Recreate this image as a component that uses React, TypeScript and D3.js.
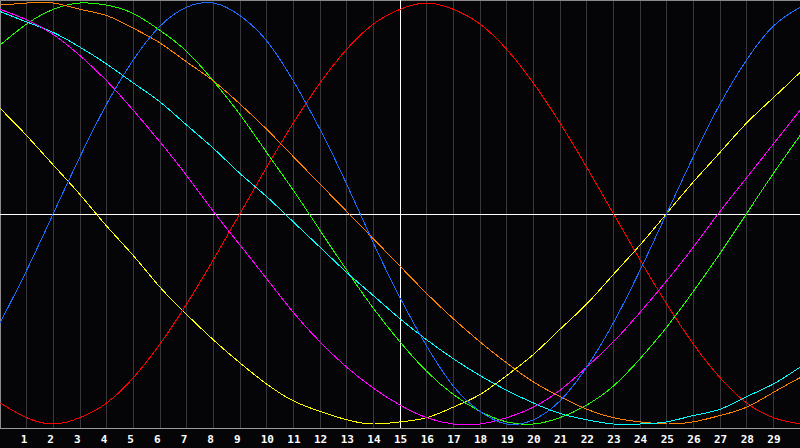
import * as d3 from "d3";

// sample positions along x (the chart runs 0..30)
const samplePoints = [
  0, 1, 2, 3, 4, 5, 6, 7, 8, 9, 10, 11, 12, 13, 14, 15,
  16, 17, 18, 19, 20, 21, 22, 23, 24, 25, 26, 27, 28, 29, 30,
];

const tickLabels = [
  1, 2, 3, 4, 5, 6, 7, 8, 9, 10, 11, 12, 13, 14, 15,
  16, 17, 18, 19, 20, 21, 22, 23, 24, 25, 26, 27, 28, 29,
];

// values read at each sample point, range -1..1
const redValues = [-0.90, -0.97, -1.00, -0.97, -0.90, -0.78, -0.62, -0.43, -0.22, 0.00, 0.22, 0.43, 0.62, 0.78, 0.90, 0.97, 1.00, 0.97, 0.90, 0.78, 0.62, 0.43, 0.22, 0.00, -0.22, -0.43, -0.62, -0.78, -0.90, -0.97, -1.00];
const blueValues = [-0.52, -0.27, 0.00, 0.27, 0.52, 0.73, 0.89, 0.98, 1.00, 0.94, 0.82, 0.63, 0.40, 0.14, -0.14, -0.40, -0.63, -0.82, -0.94, -1.00, -0.98, -0.89, -0.73, -0.52, -0.27, 0.00, 0.27, 0.52, 0.73, 0.89, 0.98];
const yellowValues = [0.50, 0.37, 0.23, 0.09, -0.06, -0.20, -0.35, -0.48, -0.60, -0.71, -0.81, -0.89, -0.94, -0.98, -1.00, -0.99, -0.97, -0.92, -0.86, -0.77, -0.67, -0.55, -0.43, -0.29, -0.15, 0.00, 0.15, 0.29, 0.43, 0.55, 0.67];
const magentaValues = [0.97, 0.92, 0.85, 0.75, 0.63, 0.49, 0.34, 0.18, 0.01, -0.15, -0.31, -0.47, -0.61, -0.73, -0.83, -0.91, -0.97, -1.00, -1.00, -0.97, -0.92, -0.84, -0.73, -0.61, -0.47, -0.32, -0.16, 0.01, 0.17, 0.33, 0.49];
const greenValues = [0.80, 0.90, 0.97, 1.00, 0.99, 0.95, 0.87, 0.77, 0.63, 0.47, 0.29, 0.11, -0.08, -0.27, -0.45, -0.61, -0.75, -0.86, -0.94, -0.99, -1.00, -0.97, -0.91, -0.82, -0.69, -0.54, -0.37, -0.19, 0.00, 0.19, 0.37];
const orangeValues = [0.99, 1.00, 1.00, 0.97, 0.94, 0.88, 0.81, 0.72, 0.63, 0.52, 0.40, 0.27, 0.14, 0.01, -0.12, -0.25, -0.38, -0.50, -0.61, -0.71, -0.80, -0.87, -0.93, -0.97, -0.99, -1.00, -0.99, -0.96, -0.92, -0.85, -0.78];
const cyanValues = [0.96, 0.91, 0.86, 0.79, 0.71, 0.62, 0.53, 0.42, 0.31, 0.19, 0.08, -0.04, -0.16, -0.28, -0.39, -0.50, -0.60, -0.69, -0.77, -0.84, -0.90, -0.95, -0.98, -1.00, -1.00, -0.99, -0.96, -0.93, -0.87, -0.81, -0.73];

const series = [
  { name: "yellow", color: "#ffff00", values: yellowValues },
  { name: "red", color: "#ff0000", values: redValues },
  { name: "green", color: "#22ff00", values: greenValues },
  { name: "orange", color: "#ff8000", values: orangeValues },
  { name: "cyan", color: "#00ffff", values: cyanValues },
  { name: "magenta", color: "#ff00ff", values: magentaValues },
  { name: "blue", color: "#1c6cff", values: blueValues },
];

const WIDTH = 800;
const HEIGHT = 448;
const PLOT_BOTTOM = 428;

export default function App() {
  const xScale = d3.scaleLinear().domain([0, 30]).range([0, WIDTH]);
  const yScale = d3.scaleLinear().domain([-1, 1]).range([424, 3]);

  const line = d3
    .line<number>()
    .x((_, i) => xScale(samplePoints[i]))
    .y((d) => yScale(d))
    .curve(d3.curveNatural);

  const zeroY = Math.round(yScale(0)) + 0.5;
  const midX = Math.round(xScale(15)) + 0.5;

  return (
    <svg
      width={WIDTH}
      height={HEIGHT}
      style={{ position: "absolute", left: 0, top: 0, display: "block" }}
    >
      <rect x={0} y={0} width={WIDTH} height={HEIGHT} fill="#050508" />
      {/* vertical grid */}
      {tickLabels.map((t) => {
        const x = Math.floor(xScale(t)) + 0.5;
        return (
          <line
            key={t}
            x1={x}
            x2={x}
            y1={0}
            y2={PLOT_BOTTOM}
            stroke="#38383c"
            strokeWidth={1}
            shapeRendering="crispEdges"
          />
        );
      })}
      {/* frame */}
      <line x1={0.5} x2={0.5} y1={0} y2={PLOT_BOTTOM} stroke="#8a8a8a" shapeRendering="crispEdges" />
      <line x1={0} x2={WIDTH} y1={0.5} y2={0.5} stroke="#8a8a8a" shapeRendering="crispEdges" />
      <line x1={0} x2={WIDTH} y1={PLOT_BOTTOM + 0.5} y2={PLOT_BOTTOM + 0.5} stroke="#9a9a9a" shapeRendering="crispEdges" />
      {/* axes */}
      <line x1={0} x2={WIDTH} y1={zeroY} y2={zeroY} stroke="#ffffff" shapeRendering="crispEdges" />
      <line x1={midX} x2={midX} y1={0} y2={PLOT_BOTTOM} stroke="#ffffff" shapeRendering="crispEdges" />
      {/* curves */}
      {series.map((s) => (
        <path
          key={s.name}
          d={line(s.values) ?? ""}
          fill="none"
          stroke={s.color}
          strokeWidth={1}
          shapeRendering="crispEdges"
        />
      ))}
      {/* x labels */}
      {tickLabels.map((t) => (
        <text
          key={t}
          x={xScale(t) - 6}
          y={443}
          fill="#ffffff"
          fontFamily="'DejaVu Sans Mono', monospace"
          fontWeight="bold"
          fontSize={11}
        >
          {t}
        </text>
      ))}
    </svg>
  );
}
